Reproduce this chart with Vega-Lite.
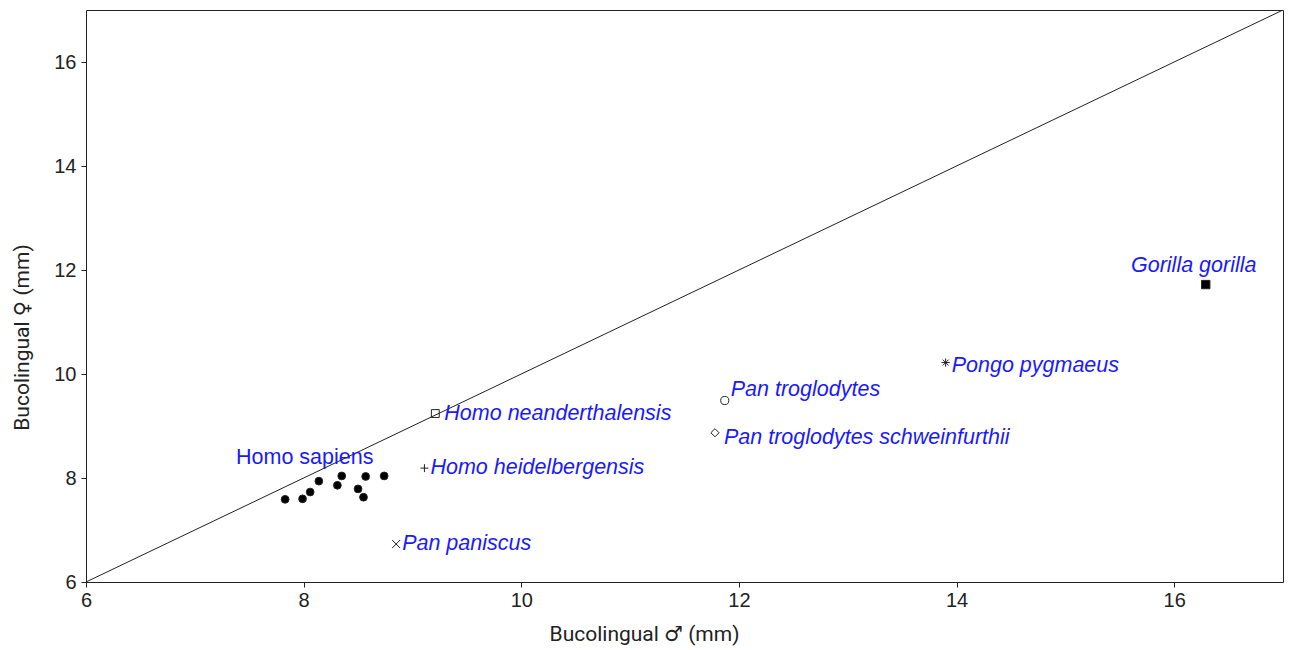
{
  "$schema": "https://vega.github.io/schema/vega-lite/v6.json",
  "width": 1197,
  "height": 572,
  "autosize": {"type": "none"},
  "padding": {"left": 86, "top": 10, "right": 6, "bottom": 68},
  "background": "white",
  "config": {
    "font": "Liberation Sans",
    "view": {"stroke": "#222", "strokeWidth": 1},
    "axis": {
      "grid": false,
      "domain": false,
      "tickColor": "#222",
      "tickSize": 5,
      "labelFontSize": 20,
      "labelColor": "#222",
      "labelFlush": false,
      "labelFont": "Liberation Sans",
      "titleFontSize": 21,
      "titleFontWeight": "normal",
      "titleColor": "#222",
      "titleFont": "Roboto, DejaVu Sans"
    }
  },
  "datasets": {
    "teeth": [
      {"species": "Homo sapiens", "male": 7.83, "female": 7.59},
      {"species": "Homo sapiens", "male": 7.99, "female": 7.6},
      {"species": "Homo sapiens", "male": 8.06, "female": 7.73},
      {"species": "Homo sapiens", "male": 8.14, "female": 7.94},
      {"species": "Homo sapiens", "male": 8.31, "female": 7.86},
      {"species": "Homo sapiens", "male": 8.35, "female": 8.04},
      {"species": "Homo sapiens", "male": 8.5, "female": 7.79},
      {"species": "Homo sapiens", "male": 8.55, "female": 7.63},
      {"species": "Homo sapiens", "male": 8.57, "female": 8.03},
      {"species": "Homo sapiens", "male": 8.74, "female": 8.04},
      {"species": "Homo neanderthalensis", "male": 9.21, "female": 9.24},
      {"species": "Homo heidelbergensis", "male": 9.11, "female": 8.19},
      {"species": "Pan paniscus", "male": 8.85, "female": 6.73},
      {"species": "Pan troglodytes", "male": 11.87, "female": 9.49},
      {"species": "Pan troglodytes schweinfurthii", "male": 11.78, "female": 8.87},
      {"species": "Pongo pygmaeus", "male": 13.9, "female": 10.22},
      {"species": "Gorilla gorilla", "male": 16.29, "female": 11.72}
    ],
    "identity": [{"v": 6}, {"v": 17}]
  },
  "layer": [
    {
      "data": {"name": "identity"},
      "mark": {"type": "line", "color": "#222", "strokeWidth": 1, "clip": true},
      "encoding": {
        "x": {
          "field": "v", "type": "quantitative",
          "scale": {"domain": [6, 17], "nice": false, "zero": false},
          "axis": {"values": [6, 8, 10, 12, 14, 16], "format": "d", "title": "Bucolingual ♂ (mm)", "labelPadding": 3, "titlePadding": 13, "titleX": 558}
        },
        "y": {
          "field": "v", "type": "quantitative",
          "scale": {"domain": [6, 17], "nice": false, "zero": false},
          "axis": {"values": [6, 8, 10, 12, 14, 16], "format": "d", "title": "Bucolingual ♀ (mm)", "labelPadding": 5, "titlePadding": 21, "titleY": 327}
        }
      }
    },
    {
      "data": {"name": "teeth"},
      "mark": {"type": "point", "filled": false, "stroke": "#222", "strokeWidth": 1, "opacity": 1},
      "encoding": {
        "x": {"field": "male", "type": "quantitative"},
        "y": {"field": "female", "type": "quantitative"},
        "shape": {
          "field": "species", "type": "nominal", "legend": null,
          "scale": {
            "domain": ["Homo sapiens", "Homo neanderthalensis", "Homo heidelbergensis", "Pan paniscus", "Pan troglodytes", "Pan troglodytes schweinfurthii", "Pongo pygmaeus", "Gorilla gorilla"],
            "range": ["circle", "square", "M-1,0H1M0,-1V1", "M-1,-1L1,1M-1,1L1,-1", "circle", "diamond", "M-1,0H1M0,-1V1M-0.7,-0.7L0.7,0.7M-0.7,0.7L0.7,-0.7", "square"]
          }
        },
        "fill": {
          "field": "species", "type": "nominal", "legend": null,
          "scale": {
            "domain": ["Homo sapiens", "Gorilla gorilla", "Pongo pygmaeus"],
            "range": ["#000", "#000", "#000"],
            "unknown": "transparent"
          }
        },
        "size": {
          "field": "species", "type": "nominal", "legend": null,
          "scale": {
            "domain": ["Homo sapiens", "Homo neanderthalensis", "Homo heidelbergensis", "Pan paniscus", "Pan troglodytes", "Pan troglodytes schweinfurthii", "Pongo pygmaeus", "Gorilla gorilla"],
            "range": [60, 70, 70, 70, 70, 45, 64, 75]
          }
        }
      }
    },
    {
      "data": {"name": "teeth"},
      "transform": [
        {"aggregate": [{"op": "mean", "field": "male", "as": "male"}, {"op": "mean", "field": "female", "as": "female"}], "groupby": ["species"]},
        {"filter": "datum.species === 'Homo sapiens'"}
      ],
      "mark": {"type": "text", "fontSize": 21.5, "color": "#1a1aff", "align": "center", "baseline": "middle", "dx": -32, "dy": -29},
      "encoding": {
        "x": {"field": "male", "type": "quantitative"},
        "y": {"field": "female", "type": "quantitative"},
        "text": {"field": "species"}
      }
    },
    {
      "data": {"name": "teeth"},
      "transform": [{"filter": "datum.species === 'Homo neanderthalensis'"}],
      "mark": {"type": "text", "fontSize": 21.5, "fontStyle": "italic", "color": "#1a1aff", "align": "left", "baseline": "middle", "dx": 9, "dy": 0},
      "encoding": {
        "x": {"field": "male", "type": "quantitative"},
        "y": {"field": "female", "type": "quantitative"},
        "text": {"field": "species"}
      }
    },
    {
      "data": {"name": "teeth"},
      "transform": [{"filter": "datum.species === 'Homo heidelbergensis' || datum.species === 'Pan paniscus'"}],
      "mark": {"type": "text", "fontSize": 21.5, "fontStyle": "italic", "color": "#1a1aff", "align": "left", "baseline": "middle", "dx": 6, "dy": 0},
      "encoding": {
        "x": {"field": "male", "type": "quantitative"},
        "y": {"field": "female", "type": "quantitative"},
        "text": {"field": "species"}
      }
    },
    {
      "data": {"name": "teeth"},
      "transform": [{"filter": "datum.species === 'Pan troglodytes'"}],
      "mark": {"type": "text", "fontSize": 21.5, "fontStyle": "italic", "color": "#1a1aff", "align": "left", "baseline": "middle", "dx": 6, "dy": -11},
      "encoding": {
        "x": {"field": "male", "type": "quantitative"},
        "y": {"field": "female", "type": "quantitative"},
        "text": {"field": "species"}
      }
    },
    {
      "data": {"name": "teeth"},
      "transform": [{"filter": "datum.species === 'Pan troglodytes schweinfurthii'"}],
      "mark": {"type": "text", "fontSize": 21.5, "fontStyle": "italic", "color": "#1a1aff", "align": "left", "baseline": "middle", "dx": 9, "dy": 5},
      "encoding": {
        "x": {"field": "male", "type": "quantitative"},
        "y": {"field": "female", "type": "quantitative"},
        "text": {"field": "species"}
      }
    },
    {
      "data": {"name": "teeth"},
      "transform": [{"filter": "datum.species === 'Pongo pygmaeus'"}],
      "mark": {"type": "text", "fontSize": 21.5, "fontStyle": "italic", "color": "#1a1aff", "align": "left", "baseline": "middle", "dx": 6, "dy": 3},
      "encoding": {
        "x": {"field": "male", "type": "quantitative"},
        "y": {"field": "female", "type": "quantitative"},
        "text": {"field": "species"}
      }
    },
    {
      "data": {"name": "teeth"},
      "transform": [{"filter": "datum.species === 'Gorilla gorilla'"}],
      "mark": {"type": "text", "fontSize": 21.5, "fontStyle": "italic", "color": "#1a1aff", "align": "center", "baseline": "middle", "dx": -12, "dy": -19},
      "encoding": {
        "x": {"field": "male", "type": "quantitative"},
        "y": {"field": "female", "type": "quantitative"},
        "text": {"field": "species"}
      }
    }
  ]
}
